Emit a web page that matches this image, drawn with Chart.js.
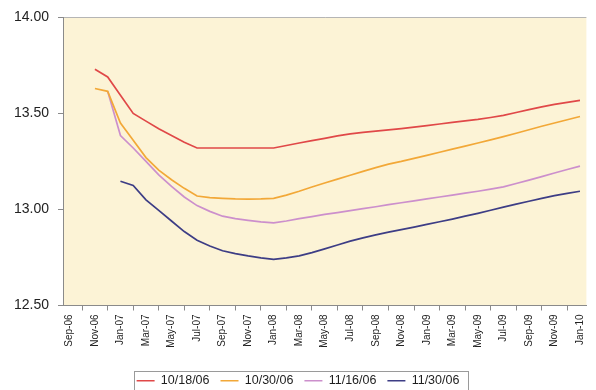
<!DOCTYPE html>
<html>
<head>
<meta charset="utf-8">
<script src="https://cdn.jsdelivr.net/npm/chart.js@4/dist/chart.umd.min.js"></script>
<style>
    html, body { margin: 0; padding: 0; background: #ffffff; }
    #wrap { width: 596px; height: 390px; }
</style>
</head>
<body>
<div id="wrap"><canvas id="curves" width="596" height="390"></canvas></div>
<script>
var months = ["Sep-06", "Oct-06", "Nov-06", "Dec-06", "Jan-07", "Feb-07", "Mar-07", "Apr-07", "May-07", "Jun-07",
    "Jul-07", "Aug-07", "Sep-07", "Oct-07", "Nov-07", "Dec-07", "Jan-08", "Feb-08", "Mar-08", "Apr-08",
    "May-08", "Jun-08", "Jul-08", "Aug-08", "Sep-08", "Oct-08", "Nov-08", "Dec-08", "Jan-09", "Feb-09",
    "Mar-09", "Apr-09", "May-09", "Jun-09", "Jul-09", "Aug-09", "Sep-09", "Oct-09", "Nov-09", "Dec-09", "Jan-10"];

var curve1018 = [null, null, 13.73, 13.69, 13.595, 13.50, 13.46, 13.42, 13.385, 13.35,
    13.32, 13.32, 13.32, 13.32, 13.32, 13.32, 13.32, 13.333, 13.346, 13.358,
    13.37, 13.383, 13.394, 13.401, 13.408, 13.414, 13.421, 13.429, 13.437, 13.445,
    13.453, 13.461, 13.469, 13.479, 13.49, 13.505, 13.52, 13.534, 13.547, 13.558, 13.568];

var curve1030 = [null, null, 13.63, 13.615, 13.45, 13.36, 13.27, 13.205, 13.155, 13.11,
    13.07, 13.062, 13.058, 13.055, 13.054, 13.055, 13.058, 13.075, 13.095, 13.117,
    13.138, 13.158, 13.178, 13.198, 13.218, 13.236, 13.25, 13.266, 13.282, 13.298,
    13.314, 13.33, 13.346, 13.362, 13.379, 13.397, 13.415, 13.433, 13.45, 13.467, 13.484];

var curve1116 = [null, null, null, 13.615, 13.385, 13.32, 13.25, 13.18, 13.12, 13.065,
    13.02, 12.99, 12.965, 12.952, 12.943, 12.935, 12.93, 12.94, 12.952, 12.963,
    12.974, 12.984, 12.994, 13.004, 13.014, 13.025, 13.035, 13.045, 13.055, 13.065,
    13.075, 13.085, 13.095, 13.106, 13.118, 13.135, 13.153, 13.171, 13.19, 13.208, 13.226];

var curve1130 = [null, null, null, null, 13.147, 13.125, 13.05, 12.995, 12.94, 12.885,
    12.84, 12.81, 12.785, 12.77, 12.758, 12.748, 12.74, 12.748, 12.758, 12.775,
    12.795, 12.815, 12.835, 12.852, 12.868, 12.882, 12.895, 12.908, 12.922, 12.936,
    12.95, 12.965, 12.98, 12.996, 13.012, 13.028, 13.043, 13.058, 13.072, 13.084, 13.095];

var seriesNames = ["10/18/06", "10/30/06", "11/16/06", "11/30/06"];
var seriesColors = ["#e04848", "#f2a838", "#cc8fcc", "#3d3d85"];

var yTicks = [12.5, 13.0, 13.5, 14.0];

var textFont = "'Liberation Sans', Arial, sans-serif";

// cream plot background plus the frame around the legend
var chartDecor = {
    id: "chartDecor",
    beforeDraw: function(chart) {
        var a = chart.chartArea;
        var ctx = chart.ctx;
        ctx.save();
        ctx.fillStyle = "#fcf3d6";
        ctx.fillRect(a.left, a.top, a.right - a.left, a.bottom - a.top);
        ctx.restore();
    },
    afterDraw: function(chart) {
        var boxes = chart.legend.legendHitBoxes;
        if (!boxes || !boxes.length) return;
        var first = boxes[0];
        var last = boxes[boxes.length - 1];
        var ctx = chart.ctx;
        ctx.save();
        ctx.strokeStyle = "#9a9a9a";
        ctx.lineWidth = 1;
        ctx.strokeRect(Math.round(first.left - 3) + 0.5, Math.round(first.top - 4) + 0.5,
            Math.round(last.left + last.width - first.left + 11), Math.round(first.height + 8));
        ctx.restore();
    }
};

var datasets = [curve1018, curve1030, curve1116, curve1130].map(function(values, i) {
    return {
        label: seriesNames[i],
        data: values,
        borderColor: seriesColors[i],
        backgroundColor: seriesColors[i],
        borderWidth: 1.7,
        pointRadius: 0,
        pointHoverRadius: 0,
        tension: 0,
        fill: false,
        spanGaps: false
    };
});

var ctx = document.getElementById("curves").getContext("2d");
var myChart = new Chart(ctx, {
    type: "line",
    data: {
        labels: months,
        datasets: datasets
    },
    options: {
        responsive: false,
        animation: false,
        layout: { padding: { top: 17, right: 0, left: 0, bottom: -7 } },
        plugins: {
            legend: {
                position: "bottom",
                labels: {
                    usePointStyle: true,
                    pointStyle: "line",
                    pointStyleWidth: 18,
                    boxHeight: 12,
                    padding: 11,
                    color: "#1e1e1e",
                    font: { family: textFont, size: 12.5 }
                }
            },
            tooltip: { enabled: false }
        },
        scales: {
            x: {
                type: "category",
                offset: true,
                grid: {
                    offset: true,
                    drawOnChartArea: false,
                    tickLength: 5,
                    tickColor: "#8a8a8a"
                },
                border: { color: "#8a8a8a", width: 1 },
                ticks: {
                    autoSkip: false,
                    maxRotation: 90,
                    minRotation: 90,
                    padding: 4,
                    color: "#222222",
                    font: { family: textFont, size: 10 },
                    callback: function(value, index) {
                        return index % 2 === 0 ? months[index] : null;
                    }
                },
                afterFit: function(scale) { scale.height = 58; }
            },
            y: {
                min: yTicks[0],
                max: yTicks[yTicks.length - 1],
                grid: {
                    drawOnChartArea: true,
                    tickLength: 5,
                    tickColor: "#8a8a8a",
                    color: function(c) {
                        return c.tick && c.tick.value === yTicks[yTicks.length - 1] ? "#b5b5b5" : "rgba(0,0,0,0)";
                    }
                },
                border: { color: "#8a8a8a", width: 1 },
                afterBuildTicks: function(scale) {
                    scale.ticks = yTicks.map(function(v) { return { value: v }; });
                },
                ticks: {
                    padding: 9,
                    color: "#222222",
                    font: { family: textFont, size: 14 },
                    callback: function(value) { return Number(value).toFixed(2); }
                },
                afterFit: function(scale) { scale.width = 63; }
            }
        }
    },
    plugins: [chartDecor]
});
</script>
</body>
</html>
